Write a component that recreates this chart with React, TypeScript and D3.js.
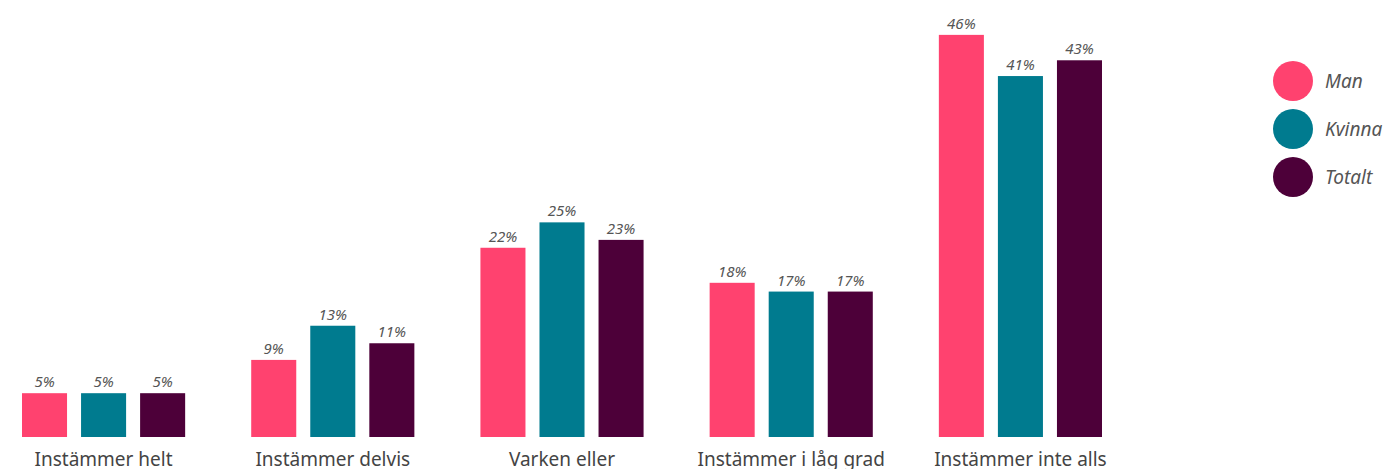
import React from 'react';
import * as d3 from 'd3';

const categories = ['Instämmer helt', 'Instämmer delvis', 'Varken eller', 'Instämmer i låg grad', 'Instämmer inte alls'];
const seriesNames = ['Man', 'Kvinna', 'Totalt'];
const colors = ['#FF426F', '#007B8F', '#4D0039'];

// values (labels show them rounded)
const manValues = [5, 8.8, 21.6, 17.6, 45.9];
const kvinnaValues = [5, 12.7, 24.5, 16.6, 41.2];
const totaltValues = [5, 10.7, 22.5, 16.6, 43];

const width = 1388;
const height = 469;
const baseline = 437;
const font = '"Noto Sans", "Open Sans", sans-serif';

export default function App() {
  const seriesValues = [manValues, kvinnaValues, totaltValues];

  const x0 = d3.scaleBand<string>()
    .domain(categories)
    .range([22, 1102])
    .paddingInner(1 - 163 / 229)
    .paddingOuter(0);

  const x1 = d3.scaleBand<string>()
    .domain(seriesNames)
    .range([0, x0.bandwidth()])
    .paddingInner(14 / 59)
    .paddingOuter(0);

  const y = d3.scaleLinear()
    .domain([0, 46])
    .range([baseline, 34]);

  const fmt = (v: number) => Math.round(v) + '%';

  return (
    <div style={{ position: 'absolute', left: 0, top: 0 }}>
      <svg width={width} height={height} style={{ display: 'block' }}>
        {categories.map((cat, ci) => (
          <g key={cat} transform={`translate(${x0(cat)},0)`}>
            {seriesNames.map((s, si) => {
              const v = seriesValues[si][ci];
              const bx = x1(s) as number;
              return (
                <g key={s}>
                  <rect
                    x={bx}
                    y={y(v)}
                    width={x1.bandwidth()}
                    height={baseline - y(v)}
                    fill={colors[si]}
                  />
                  <text
                    x={bx + x1.bandwidth() / 2}
                    y={y(v) - 6}
                    textAnchor="middle"
                    fontFamily={font}
                    fontStyle="italic"
                    fontSize={15}
                    fill="#555"
                  >
                    {fmt(v)}
                  </text>
                </g>
              );
            })}
            <text
              x={x0.bandwidth() / 2}
              y={466}
              textAnchor="middle"
              fontFamily={font}
              fontSize={19}
              fill="#444"
            >
              {cat}
            </text>
          </g>
        ))}
        {seriesNames.map((s, i) => (
          <g key={s} transform={`translate(1293,${81 + i * 48})`}>
            <circle r={20} fill={colors[i]} />
            <text
              x={32}
              y={7}
              fontFamily={font}
              fontStyle="italic"
              fontSize={19}
              fill="#555"
            >
              {s}
            </text>
          </g>
        ))}
      </svg>
    </div>
  );
}
